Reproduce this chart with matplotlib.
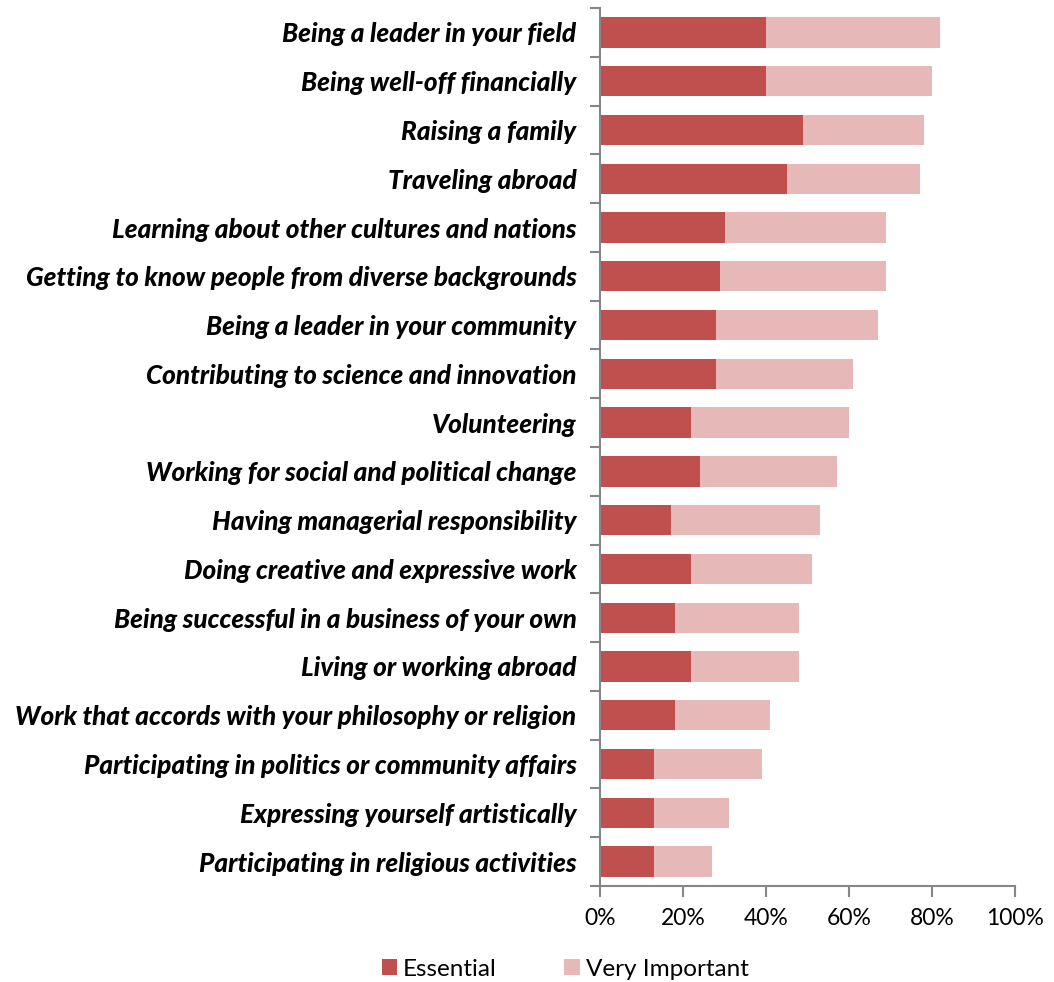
import matplotlib
matplotlib.use("Agg")
import matplotlib.pyplot as plt
from matplotlib.ticker import FuncFormatter, FixedLocator
import numpy as np

categories = [
    "Being a leader in your field",
    "Being well-off financially",
    "Raising a family",
    "Traveling abroad",
    "Learning about other cultures and nations",
    "Getting to know people from diverse backgrounds",
    "Being a leader in your community",
    "Contributing to science and innovation",
    "Volunteering",
    "Working for social and political change",
    "Having managerial responsibility",
    "Doing creative and expressive work",
    "Being successful in a business of your own",
    "Living or working abroad",
    "Work that accords with your philosophy or religion",
    "Participating in politics or community affairs",
    "Expressing yourself artistically",
    "Participating in religious activities",
]
essential = [40, 40, 49, 45, 30, 29, 28, 28, 22, 24, 17, 22, 18, 22, 18, 13, 13, 13]
very_important = [42, 40, 29, 32, 39, 40, 39, 33, 38, 33, 36, 29, 30, 26, 23, 26, 18, 14]
xticks = [0, 20, 40, 60, 80, 100]

W, H = 1054, 982
fig = plt.figure(figsize=(W / 100, H / 100), dpi=100)
ax = fig.add_axes([600 / W, 1 - 886 / H, (1015 - 600) / W, (886 - 8) / H])

n = len(categories)
y = np.arange(n)
ess = np.array(essential)
vi = np.array(very_important)
ax.barh(y, ess, height=0.62, color="#C0504D", label="Essential")
ax.barh(y, vi, left=ess, height=0.62, color="#E6B9B8", label="Very Important")

ax.set_ylim(n - 0.5, -0.5)
ax.set_xlim(0, 100)
ax.set_yticks(y)
ax.set_yticklabels(categories, fontfamily="Lato", fontweight="black", fontstyle="italic", fontsize=18.8)
ax.yaxis.set_minor_locator(FixedLocator(np.arange(-0.5, n, 1)))
ax.tick_params(axis="y", which="major", length=0, pad=17)
ax.tick_params(axis="y", which="minor", length=7, color="#868686", width=1.5)
ax.set_xticks(xticks)
ax.xaxis.set_major_formatter(FuncFormatter(lambda v, p: f"{int(v)}%"))
ax.tick_params(axis="x", length=8, color="#868686", width=1.5, labelsize=16.5, pad=8)
for lab in ax.get_xticklabels():
    lab.set_fontfamily("Lato")

for s in ["top", "right"]:
    ax.spines[s].set_visible(False)
for s in ["left", "bottom"]:
    ax.spines[s].set_color("#868686")
    ax.spines[s].set_linewidth(1.5)

leg = fig.legend(loc="center", bbox_to_anchor=(565 / W, 1 - 969 / H), ncol=2, frameon=False,
                 prop={"family": "Lato", "size": 17.5}, handlelength=0.62, handleheight=0.62,
                 handletextpad=0.25, columnspacing=2.8)

fig.savefig("out.png", dpi=100, facecolor="white")
